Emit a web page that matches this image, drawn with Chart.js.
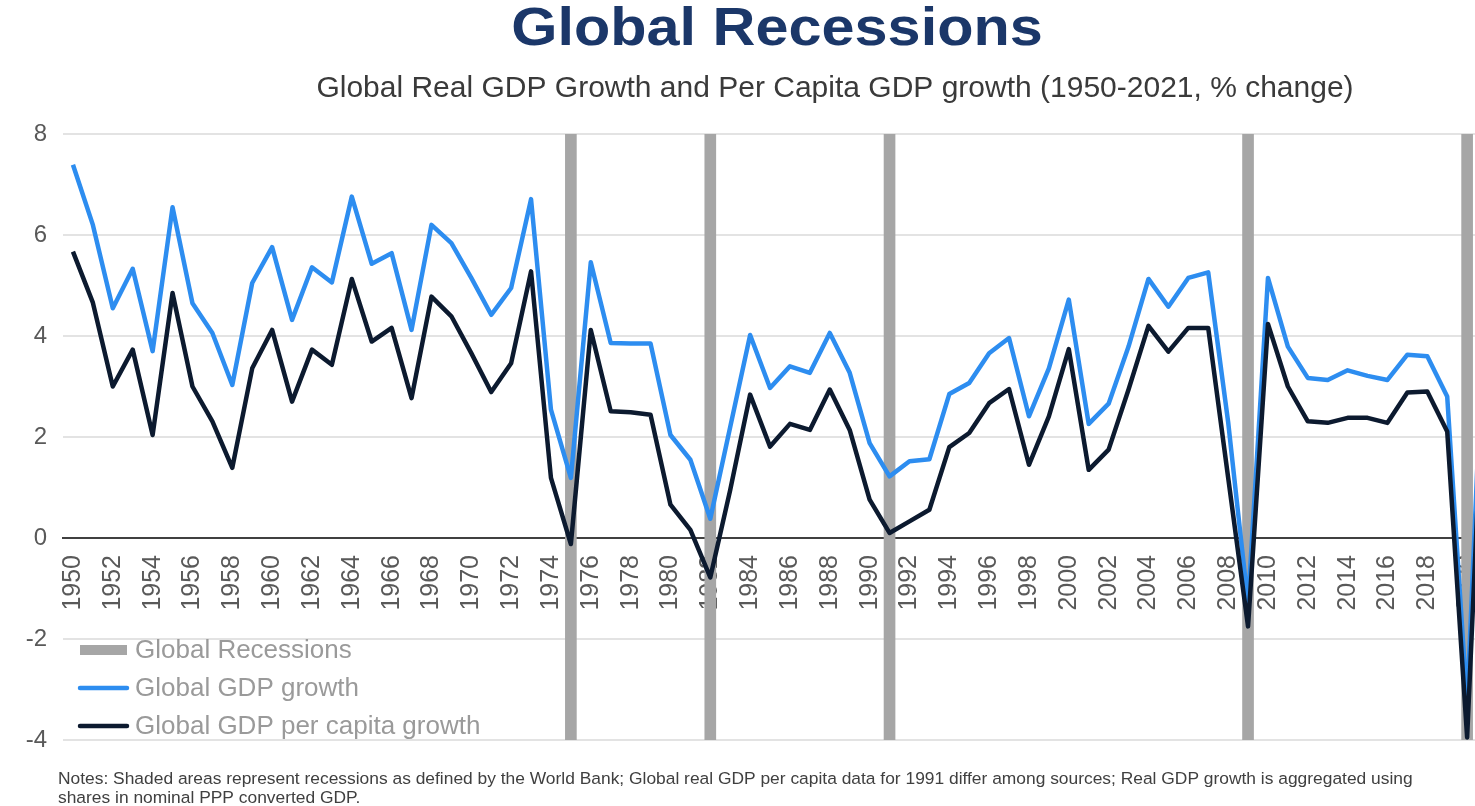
<!DOCTYPE html>
<html>
<head>
<meta charset="utf-8">
<title>Global Recessions</title>
<script src="https://cdn.jsdelivr.net/npm/chart.js@4"></script>
<style>
  html, body { margin: 0; padding: 0; background: #fff; overflow: hidden; }
  #wrap { position: absolute; left: 0; top: 0; width: 1530px; height: 806px; }
</style>
</head>
<body>
<div id="wrap"><canvas id="recessionChart" width="1530" height="806"></canvas></div>
<script>
// annual data, % change
const years = [
  1950, 1951, 1952, 1953, 1954, 1955, 1956, 1957, 1958, 1959,
  1960, 1961, 1962, 1963, 1964, 1965, 1966, 1967, 1968, 1969,
  1970, 1971, 1972, 1973, 1974, 1975, 1976, 1977, 1978, 1979,
  1980, 1981, 1982, 1983, 1984, 1985, 1986, 1987, 1988, 1989,
  1990, 1991, 1992, 1993, 1994, 1995, 1996, 1997, 1998, 1999,
  2000, 2001, 2002, 2003, 2004, 2005, 2006, 2007, 2008, 2009,
  2010, 2011, 2012, 2013, 2014, 2015, 2016, 2017, 2018, 2019,
  2020, 2021
];

const gdpGrowth = [
  7.39, 6.20, 4.55, 5.33, 3.70, 6.55, 4.65, 4.06, 3.03, 5.05,
  5.76, 4.32, 5.36, 5.06, 6.76, 5.43, 5.64, 4.12, 6.20, 5.84,
  5.15, 4.42, 4.95, 6.71, 2.54, 1.19, 5.46, 3.86, 3.85, 3.85,
  2.04, 1.55, 0.38, 2.20, 4.02, 2.97, 3.40, 3.27, 4.06, 3.27,
  1.88, 1.22, 1.52, 1.56, 2.85, 3.07, 3.66, 3.96, 2.41, 3.36,
  4.72, 2.26, 2.66, 3.79, 5.13, 4.58, 5.15, 5.26, 2.30, -1.30,
  5.15, 3.79, 3.17, 3.13, 3.32, 3.21, 3.13, 3.63, 3.60, 2.80,
  -3.30, 5.90
];

const gdpPerCapita = [
  5.67, 4.66, 3.00, 3.73, 2.04, 4.85, 3.00, 2.31, 1.39, 3.36,
  4.12, 2.70, 3.73, 3.43, 5.13, 3.89, 4.16, 2.77, 4.78, 4.39,
  3.66, 2.89, 3.46, 5.28, 1.19, -0.12, 4.12, 2.51, 2.49, 2.44,
  0.66, 0.16, -0.78, 0.95, 2.84, 1.81, 2.26, 2.14, 2.94, 2.14,
  0.76, 0.10, 0.33, 0.56, 1.80, 2.08, 2.67, 2.95, 1.45, 2.41,
  3.74, 1.35, 1.75, 2.94, 4.20, 3.69, 4.16, 4.16, 1.20, -1.75,
  4.24, 3.00, 2.31, 2.28, 2.38, 2.38, 2.28, 2.88, 2.90, 2.11,
  -3.95, 4.90
];

// World Bank global recession years
const recessionYears = [1975, 1982, 1991, 2009, 2020];

const Y_MIN = -4;
const Y_MAX = 8;
const Y_STEP = 2;

const FONT = "'Liberation Sans', Arial, sans-serif";

const notesLines = [
  'Notes: Shaded areas represent recessions as defined by the World Bank; Global real GDP per capita data for 1991 differ among sources; Real GDP growth is aggregated using',
  'shares in nominal PPP converted GDP.'
];

// headline, subtitle and footnote
const headings = {
  id: 'headings',
  afterDraw(chart) {
    const ctx = chart.ctx;
    ctx.save();
    ctx.textBaseline = 'alphabetic';

    ctx.fillStyle = '#1b3769';
    ctx.font = `bold 54px ${FONT}`;
    ctx.textAlign = 'center';
    ctx.translate(777, 45);
    ctx.scale(1.1, 1);
    ctx.fillText('Global Recessions', 0, 0);
    ctx.setTransform(1, 0, 0, 1, 0, 0);

    ctx.fillStyle = '#3a3a3a';
    ctx.font = `30px ${FONT}`;
    ctx.fillText('Global Real GDP Growth and Per Capita GDP growth (1950-2021, % change)', 835, 97);

    ctx.fillStyle = '#404040';
    ctx.font = `17.4px ${FONT}`;
    ctx.textAlign = 'left';
    notesLines.forEach((line, i) => ctx.fillText(line, 58, 784 + i * 19));
    ctx.restore();
  }
};

// legend sits inside the plot, lower left
const insideLegend = {
  id: 'insideLegend',
  afterDraw(chart) {
    const ctx = chart.ctx;
    const area = chart.chartArea;
    const x = area.left + 17;
    const top = area.bottom - 90;
    ctx.save();
    ctx.font = `26px ${FONT}`;
    ctx.textBaseline = 'middle';
    ctx.textAlign = 'left';
    chart.data.datasets.forEach((ds, i) => {
      const y = top + i * 38;
      if (ds.type === 'bar') {
        ctx.fillStyle = ds.backgroundColor;
        ctx.fillRect(x, y - 5, 47, 10);
      } else {
        ctx.strokeStyle = ds.borderColor;
        ctx.lineWidth = ds.borderWidth;
        ctx.lineCap = 'round';
        ctx.beginPath();
        ctx.moveTo(x, y);
        ctx.lineTo(x + 47, y);
        ctx.stroke();
      }
      ctx.fillStyle = '#9a9a9a';
      ctx.fillText(ds.label, x + 55, y + 1);
    });
    ctx.restore();
  }
};

new Chart(document.getElementById('recessionChart'), {
  type: 'bar',
  data: {
    labels: years,
    datasets: [
      {
        type: 'bar',
        label: 'Global Recessions',
        data: years.map(y => recessionYears.includes(y) ? [Y_MIN, Y_MAX] : null),
        backgroundColor: '#a6a6a6',
        barThickness: 11,
        order: 3
      },
      {
        type: 'line',
        label: 'Global GDP growth',
        data: gdpGrowth,
        borderColor: '#2d8df0',
        borderWidth: 4.5,
        pointRadius: 0,
        tension: 0,
        borderJoinStyle: 'round',
        order: 2
      },
      {
        type: 'line',
        label: 'Global GDP per capita growth',
        data: gdpPerCapita,
        borderColor: '#0c1a2f',
        borderWidth: 4.5,
        pointRadius: 0,
        tension: 0,
        borderJoinStyle: 'round',
        order: 1
      }
    ]
  },
  options: {
    responsive: false,
    animation: false,
    devicePixelRatio: 1,
    layout: { padding: { top: 134, bottom: 66, left: 0, right: 33 } },
    plugins: {
      legend: { display: false },
      tooltip: { enabled: false }
    },
    scales: {
      x: {
        position: { y: 0 },
        offset: true,
        grid: { display: false },
        border: { display: true, color: '#404040', width: 2 },
        ticks: {
          autoSkip: false,
          minRotation: 90,
          maxRotation: 90,
          padding: 9,
          color: '#595959',
          font: { family: FONT, size: 25 },
          callback: (value, index) => (index % 2 === 0 ? String(years[index]) : null)
        }
      },
      y: {
        min: Y_MIN,
        max: Y_MAX,
        grid: { color: '#e3e3e3', lineWidth: 2, drawTicks: false },
        border: { display: false },
        ticks: {
          stepSize: Y_STEP,
          padding: 16,
          color: '#595959',
          font: { family: FONT, size: 24 }
        },
        afterFit(scale) { scale.width = 63; }
      }
    }
  },
  plugins: [headings, insideLegend]
});
</script>
</body>
</html>
